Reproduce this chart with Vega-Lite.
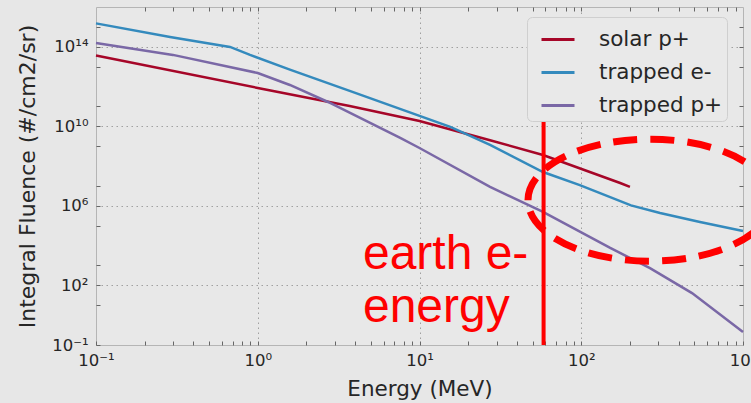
{
  "$schema": "https://vega.github.io/schema/vega-lite/v6.json",
  "width": 647,
  "height": 338,
  "autosize": {"type": "none"},
  "padding": {"left": 96, "top": 7, "right": 8, "bottom": 58},
  "background": "#e7e7e7",
  "config": {
    "view": {"fill": "#e8e8e8", "stroke": "#b5b5b5", "strokeWidth": 1},
    "font": "DejaVu Sans",
    "legend": {
      "orient": "none",
      "legendX": 431,
      "legendY": 10,
      "fillColor": "#e9e9e9",
      "strokeColor": "#cfcfcf",
      "cornerRadius": 5,
      "padding": 4.5,
      "symbolType": "stroke",
      "symbolStrokeWidth": 3,
      "symbolSize": 1089,
      "symbolOffset": 8.5,
      "labelFont": "DejaVu Sans",
      "labelFontSize": 21.5,
      "labelColor": "#262626",
      "labelOffset": 23,
      "rowPadding": 4
    }
  },
  "datasets": {
    "curves": [
      {"series": "solar p+", "energy": 0.1, "fluence": 3.6e13},
      {"series": "solar p+", "energy": 1.0, "fluence": 8.5e11},
      {"series": "solar p+", "energy": 3.7, "fluence": 1.05e11},
      {"series": "solar p+", "energy": 10, "fluence": 1.85e10},
      {"series": "solar p+", "energy": 27.3, "fluence": 2.0e9},
      {"series": "solar p+", "energy": 58, "fluence": 3.6e8},
      {"series": "solar p+", "energy": 174, "fluence": 1.4e7},
      {"series": "solar p+", "energy": 200, "fluence": 8.9e6},
      {"series": "trapped e-", "energy": 0.1, "fluence": 1.5e15},
      {"series": "trapped e-", "energy": 0.287, "fluence": 3.1e14},
      {"series": "trapped e-", "energy": 0.674, "fluence": 9.8e13},
      {"series": "trapped e-", "energy": 0.896, "fluence": 3.9e13},
      {"series": "trapped e-", "energy": 1.58, "fluence": 7.1e12},
      {"series": "trapped e-", "energy": 3.7, "fluence": 6.0e11},
      {"series": "trapped e-", "energy": 15.5, "fluence": 9.3e9},
      {"series": "trapped e-", "energy": 27.3, "fluence": 1.15e9},
      {"series": "trapped e-", "energy": 58, "fluence": 5.0e7},
      {"series": "trapped e-", "energy": 98, "fluence": 1.1e7},
      {"series": "trapped e-", "energy": 203, "fluence": 1.05e6},
      {"series": "trapped e-", "energy": 307, "fluence": 4.4e5},
      {"series": "trapped e-", "energy": 542, "fluence": 1.55e5},
      {"series": "trapped e-", "energy": 1000, "fluence": 5.4e4},
      {"series": "trapped p+", "energy": 0.1, "fluence": 1.55e14},
      {"series": "trapped p+", "energy": 0.299, "fluence": 3.9e13},
      {"series": "trapped p+", "energy": 1.0, "fluence": 4.8e12},
      {"series": "trapped p+", "energy": 1.58, "fluence": 1.2e12},
      {"series": "trapped p+", "energy": 2.72, "fluence": 1.67e11},
      {"series": "trapped p+", "energy": 7.6, "fluence": 2.6e9},
      {"series": "trapped p+", "energy": 10, "fluence": 8.1e8},
      {"series": "trapped p+", "energy": 27.3, "fluence": 8.9e6},
      {"series": "trapped p+", "energy": 58, "fluence": 4.9e5},
      {"series": "trapped p+", "energy": 151, "fluence": 7.6e3},
      {"series": "trapped p+", "energy": 266, "fluence": 740},
      {"series": "trapped p+", "energy": 484, "fluence": 41},
      {"series": "trapped p+", "energy": 1000, "fluence": 0.45}
    ],
    "marker": [{"energy": 58.5, "top": 1.66e10, "bottom": 0.1}],
    "notes": [
      {"energy": 4.47, "fluence": 659, "text": "earth e-"},
      {"energy": 4.47, "fluence": 1.43, "text": "energy"}
    ],
    "circle": [{"energy": 266, "fluence": 1.93e6}]
  },
  "layer": [
    {
      "data": {"name": "curves"},
      "mark": {"type": "line", "strokeWidth": 2.5},
      "encoding": {
        "x": {
          "field": "energy", "type": "quantitative",
          "scale": {"type": "log", "domain": [0.1, 1000], "nice": false},
          "axis": {
            "orient": "bottom",
            "values": [0.1,0.2,0.3,0.4,0.5,0.6,0.7,0.8,0.9,1,2,3,4,5,6,7,8,9,10,20,30,40,50,60,70,80,90,100,200,300,400,500,600,700,800,900,1000],
            "labelExpr": "datum.value === 0.1 ? '10⁻¹' : datum.value === 1 ? '10⁰' : datum.value === 10 ? '10¹' : datum.value === 100 ? '10²' : datum.value === 1000 ? '10³' : ''",
            "labelOverlap": false, "labelFlush": false, "labelBound": false,
            "grid": true, "gridDash": [1.5, 3.5], "gridColor": "#a0a0a0",
            "gridOpacity": {"condition": {"test": "datum.value === 1 || datum.value === 10 || datum.value === 100", "value": 1}, "value": 0},
            "tickSize": -4, "tickColor": "#666666",
            "domain": false,
            "labelFont": "DejaVu Sans", "labelFontSize": 16.5, "labelColor": "#262626", "labelPadding": 11,
            "title": "Energy (MeV)", "titleFont": "DejaVu Sans", "titleFontSize": 21.5, "titleFontWeight": "normal", "titleColor": "#262626", "titlePadding": 10
          }
        },
        "y": {
          "field": "fluence", "type": "quantitative",
          "scale": {"type": "log", "domain": [0.1, 1e16], "nice": false},
          "axis": {
            "orient": "left",
            "values": [0.1, 10, 100, 1000, 100000, 1000000, 10000000, 1000000000, 10000000000, 100000000000, 10000000000000, 100000000000000, 1000000000000000],
            "labelExpr": "datum.value === 0.1 ? '10⁻¹' : datum.value === 100 ? '10²' : datum.value === 1000000 ? '10⁶' : datum.value === 10000000000 ? '10¹⁰' : datum.value === 100000000000000 ? '10¹⁴' : ''",
            "labelOverlap": false, "labelFlush": false, "labelBound": false,
            "grid": true, "gridDash": [1.5, 3.5], "gridColor": "#a0a0a0",
            "gridOpacity": {"condition": {"test": "datum.value === 100 || datum.value === 1000000 || datum.value === 10000000000 || datum.value === 100000000000000", "value": 1}, "value": 0},
            "tickSize": -4, "tickColor": "#666666",
            "domain": false,
            "labelFont": "DejaVu Sans", "labelFontSize": 16.5, "labelColor": "#262626", "labelPadding": 12, "labelBaseline": "middle",
            "title": "Integral Fluence (#/cm2/sr)", "titleFont": "DejaVu Sans", "titleFontSize": 22, "titleFontWeight": "normal", "titleColor": "#262626", "titlePadding": 12
          }
        },
        "color": {
          "field": "series", "type": "nominal",
          "scale": {"domain": ["solar p+", "trapped e-", "trapped p+"], "range": ["#A60628", "#348ABD", "#7A68A6"]},
          "legend": {"title": null, "labelExpr": "datum.label + '\u00a0'"}
        }
      }
    },
    {
      "data": {"name": "curves"},
      "mark": {"type": "line", "strokeOpacity": 0},
      "encoding": {
        "x": {
          "field": "energy", "type": "quantitative",
          "scale": {"type": "log", "domain": [0.1, 1000], "nice": false},
          "axis": {
            "orient": "top", "title": null, "labels": false, "grid": false, "domain": false,
            "values": [0.2,0.3,0.4,0.5,0.6,0.7,0.8,0.9,1,2,3,4,5,6,7,8,9,10,20,30,40,50,60,70,80,90,100,200,300,400,500,600,700,800,900],
            "tickSize": -4, "tickColor": "#666666"
          }
        },
        "y": {
          "field": "fluence", "type": "quantitative",
          "scale": {"type": "log", "domain": [0.1, 1e16], "nice": false},
          "axis": {
            "orient": "right", "title": null, "labels": false, "grid": false, "domain": false,
            "values": [10, 100, 1000, 100000, 1000000, 10000000, 1000000000, 10000000000, 100000000000, 10000000000000, 100000000000000, 1000000000000000],
            "tickSize": -4, "tickColor": "#666666"
          }
        }
      }
    },
    {
      "data": {"name": "marker"},
      "mark": {"type": "rule", "color": "#ff0000", "strokeWidth": 4},
      "encoding": {
        "x": {"field": "energy", "type": "quantitative", "scale": {"type": "log", "domain": [0.1, 1000], "nice": false}, "axis": null},
        "y": {"field": "top", "type": "quantitative", "scale": {"type": "log", "domain": [0.1, 1e16], "nice": false}, "axis": null},
        "y2": {"field": "bottom"}
      }
    },
    {
      "data": {"name": "notes"},
      "mark": {"type": "text", "align": "left", "baseline": "alphabetic", "font": "Liberation Sans", "fontSize": 48, "color": "#ff0000"},
      "encoding": {
        "x": {"field": "energy", "type": "quantitative", "scale": {"type": "log", "domain": [0.1, 1000], "nice": false}, "axis": null},
        "y": {"field": "fluence", "type": "quantitative", "scale": {"type": "log", "domain": [0.1, 1e16], "nice": false}, "axis": null},
        "text": {"field": "text", "type": "nominal"}
      }
    },
    {
      "data": {"name": "circle"},
      "mark": {
        "type": "point",
        "shape": "M -1 0 C -1 -0.276 -0.552 -0.5 0 -0.5 C 0.552 -0.5 1 -0.276 1 0 C 1 0.276 0.552 0.5 0 0.5 C -0.552 0.5 -1 0.276 -1 0 Z",
        "size": 59536,
        "filled": false,
        "stroke": "#ff0000",
        "strokeWidth": 7,
        "strokeDash": [24, 13],
        "opacity": 1
      },
      "encoding": {
        "x": {"field": "energy", "type": "quantitative", "scale": {"type": "log", "domain": [0.1, 1000], "nice": false}, "axis": null},
        "y": {"field": "fluence", "type": "quantitative", "scale": {"type": "log", "domain": [0.1, 1e16], "nice": false}, "axis": null}
      }
    }
  ],
  "resolve": {"axis": {"x": "independent", "y": "independent"}}
}
